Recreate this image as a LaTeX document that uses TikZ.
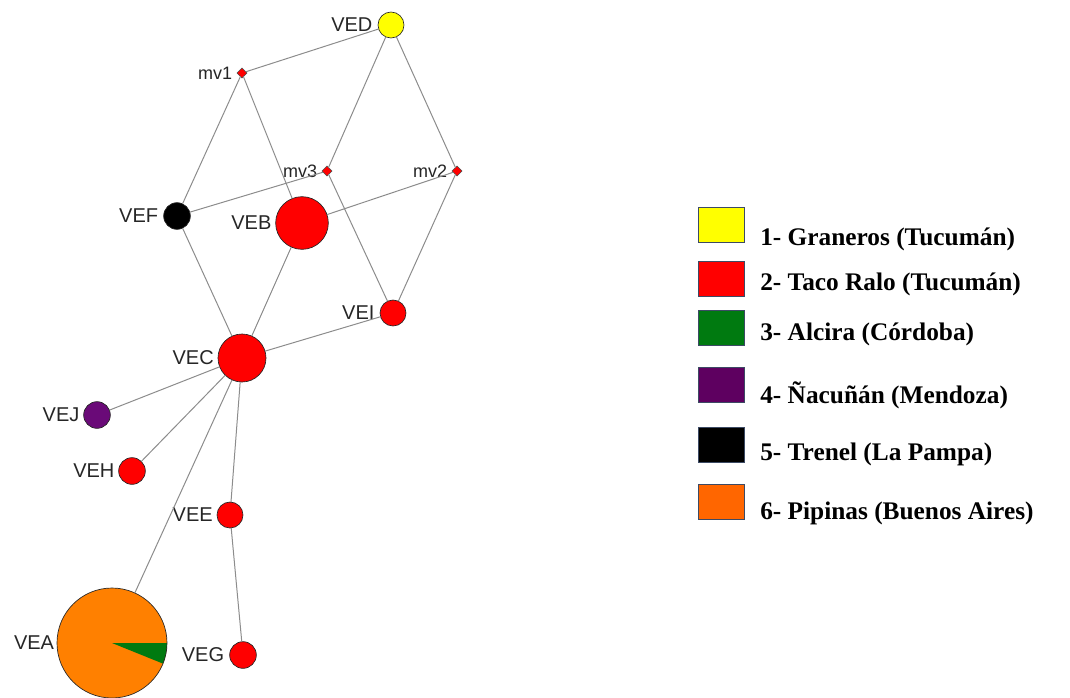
\documentclass[tikz,border=0pt]{standalone}
\usepackage{fontspec}
\setmainfont{Liberation Serif}
\setsansfont{Liberation Sans}
\usetikzlibrary{shapes.geometric}

\definecolor{popyellow}{HTML}{FFFF00}
\definecolor{popred}{HTML}{FF0000}
\definecolor{popgreen}{HTML}{007A10}
\definecolor{poppurple}{HTML}{6A0A78}
\definecolor{keypurple}{HTML}{5E0060}
\definecolor{poporange}{HTML}{FF8000}
\definecolor{keyorange}{HTML}{FF6600}
\definecolor{keyrim}{HTML}{3C4A64}

\tikzset{
  pop/.style={circle,draw=black!85,line width=0.5pt,minimum size=#1,inner sep=0pt,outer sep=0pt},
  hub/.style={diamond,fill=popred,draw=black!70,line width=0.3pt,minimum size=7.5pt,inner sep=0pt,outer sep=0pt},
  link/.style={draw=gray!90,line width=0.75pt},
  vlabel/.style={font=\sffamily\fontsize{15}{15}\selectfont,text=black!85,inner sep=0pt},
  hlabel/.style={font=\sffamily\fontsize{13.5}{14}\selectfont,text=black!85,inner sep=0pt},
  key/.style={draw=keyrim,line width=0.6pt,minimum width=34.5pt,minimum height=26pt,inner sep=0pt},
  keytext/.style={font=\bfseries\fontsize{19}{20}\selectfont,anchor=base west,inner sep=0pt}
}

\begin{document}
\begin{tikzpicture}[x=0.75pt,y=-0.75pt]
\useasboundingbox (0,0) rectangle (1070,697);

% median vectors
\node[hub,label={[hlabel,label distance=3.5pt]left:mv1}] (mv1) at (242,73) {};
\node[hub,label={[hlabel,label distance=3.5pt]left:mv3}] (mv3) at (327,171) {};
\node[hub,label={[hlabel,label distance=3.5pt]left:mv2}] (mv2) at (457,171) {};

% haplotypes
\node[pop=19.5pt,fill=popyellow,label={[vlabel,label distance=4pt]left:VED}] (VED) at (391,25) {};
\node[pop=20pt,fill=black,label={[vlabel,label distance=4pt]left:VEF}] (VEF) at (177,216) {};
\node[pop=39.5pt,fill=popred,label={[vlabel,label distance=3pt]left:VEB}] (VEB) at (302,223) {};
\node[pop=19.5pt,fill=popred,label={[vlabel,label distance=4pt]left:VEI}] (VEI) at (393,313) {};
\node[pop=36pt,fill=popred,label={[vlabel,label distance=3pt]left:VEC}] (VEC) at (242,358) {};
\node[pop=20pt,fill=poppurple,label={[vlabel,label distance=3pt]left:VEJ}] (VEJ) at (97,415) {};
\node[pop=20pt,fill=popred,label={[vlabel,label distance=3pt]left:VEH}] (VEH) at (132,471) {};
\node[pop=19.5pt,fill=popred,label={[vlabel,label distance=3pt]left:VEE}] (VEE) at (230,515) {};
\node[pop=20pt,fill=popred,label={[vlabel,label distance=4pt]left:VEG}] (VEG) at (243,655) {};
\node[pop=82.5pt,fill=poporange,label={[vlabel,label distance=2pt]left:VEA},
  path picture={\fill[popgreen] (path picture bounding box.center) -- +(0:60pt) -- +(-22:60pt) -- cycle;}] (VEA) at (112,643) {};

% links
\draw[link] (VED) -- (mv1);
\draw[link] (VED) -- (mv3);
\draw[link] (VED) -- (mv2);
\draw[link] (mv1) -- (VEF);
\draw[link] (mv1) -- (VEB);
\draw[link] (mv3) -- (VEF);
\draw[link] (mv3) -- (VEI);
\draw[link] (mv2) -- (VEB);
\draw[link] (mv2) -- (VEI);
\draw[link] (VEF) -- (VEC);
\draw[link] (VEB) -- (VEC);
\draw[link] (VEI) -- (VEC);
\draw[link] (VEC) -- (VEJ);
\draw[link] (VEC) -- (VEH);
\draw[link] (VEC) -- (VEE);
\draw[link] (VEC) -- (VEA);
\draw[link] (VEE) -- (VEG);

% legend
\foreach \i/\c/\sy/\ty/\txt in {
  1/popyellow/225/245/{1- Graneros (Tucumán)},
  2/popred/279/290/{2- Taco Ralo (Tucumán)},
  3/popgreen/328/340/{3- Alcira (Córdoba)},
  4/keypurple/385/403/{4- Ñacuñán (Mendoza)},
  5/black/445/460/{5- Trenel (La Pampa)},
  6/keyorange/502/519/{6- Pipinas (Buenos Aires)}}{
  \node[key,fill=\c] (key\i) at (721,\sy) {};
  \node[keytext] (txt\i) at (760,\ty) {\txt};
}
\end{tikzpicture}
\end{document}
